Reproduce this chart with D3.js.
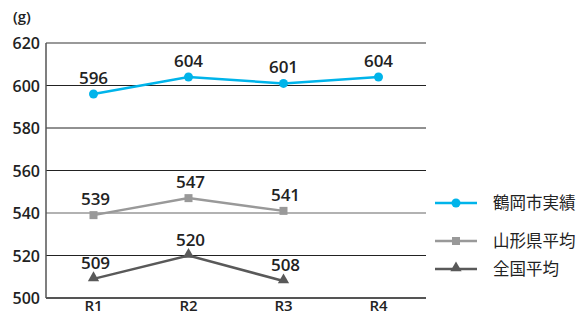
<!DOCTYPE html>
<html><head><meta charset="utf-8">
<script src="https://cdn.jsdelivr.net/npm/d3@7"></script>
<style>body{margin:0;background:#fff}svg{display:block}text{font-family:"Open Sans","Noto Sans CJK JP",sans-serif}</style>
</head><body><svg id="c" width="579" height="316"></svg>
<script>
const categories = ["R1","R2","R3","R4"];
const yTicks = [500,520,540,560,580,600,620];
const seriesNames = ["鶴岡市実績","山形県平均","全国平均"];
const tsuruoka = [596,604,601,604];
const yamagata = [539,547,541,null];
const national = [509,520,508,null];
const unit = "(g)";

const svg = d3.select("#c");
const L=46, R=426, T=43, B=298;
const x = d3.scalePoint().domain(categories).range([L,R]).padding(0.5);
const y = d3.scaleLinear().domain([500,620]).range([B,T]);

yTicks.forEach(t=>{
  if(t===500) return;
  let col = "#222", w=1;
  if(t===620){col="#999";w=2;}
  if(t===540){col="#999";w=1.5;}
  svg.append("line").attr("x1",L).attr("x2",R).attr("y1",y(t)).attr("y2",y(t))
    .attr("stroke",col).attr("stroke-width",w);
});
svg.append("line").attr("x1",L).attr("x2",L).attr("y1",T).attr("y2",B).attr("stroke","#555").attr("stroke-width",1.5);
svg.append("line").attr("x1",L).attr("x2",R).attr("y1",B).attr("y2",B).attr("stroke","#555").attr("stroke-width",2);

svg.selectAll(".yt").data(yTicks).enter().append("text")
  .attr("x",40).attr("y",d=>y(d)+6).attr("text-anchor","end")
  .attr("font-size",16).attr("font-weight",600).attr("fill","#222").text(d=>d);
svg.append("text").attr("x",13).attr("y",22).attr("font-size",15).attr("font-weight",600).attr("fill","#222").text(unit);
svg.selectAll(".xt").data(categories).enter().append("text")
  .attr("x",d=>x(d)).attr("y",B+13).attr("text-anchor","middle")
  .attr("font-size",15).attr("font-weight",600).attr("fill","#222").text(d=>d);

const series = [
  {name:seriesNames[0], vals:tsuruoka, color:"#00b4ea", marker:"circle"},
  {name:seriesNames[1], vals:yamagata, color:"#999999", marker:"square"},
  {name:seriesNames[2], vals:national, color:"#595959", marker:"triangle"}
];
function marker(g, type, cx, cy, color){
  if(type==="circle") g.append("circle").attr("cx",cx).attr("cy",cy).attr("r",4.5).attr("fill",color);
  else if(type==="square") g.append("rect").attr("x",cx-4).attr("y",cy-4).attr("width",8).attr("height",8).attr("fill",color);
  else g.append("path").attr("d",d3.symbol().type(d3.symbolTriangle).size(55)()).attr("transform",`translate(${cx},${cy-1})`).attr("fill",color);
}
series.forEach(s=>{
  const pts = categories.map((c,i)=>({c,v:s.vals[i]})).filter(d=>d.v!=null);
  svg.append("path").datum(pts).attr("fill","none").attr("stroke",s.color).attr("stroke-width",2.5)
    .attr("d",d3.line().x(d=>x(d.c)).y(d=>y(d.v)));
  pts.forEach(d=>{
    marker(svg,s.marker,x(d.c),y(d.v),s.color);
    svg.append("text").attr("x",x(d.c)+(s.marker==="circle"?0:2)).attr("y",y(d.v)-10)
      .attr("text-anchor","middle").attr("font-size",17).attr("font-weight",600).attr("fill","#222").text(d.v);
  });
});
const ly=[203,241,269];
series.forEach((s,i)=>{
  svg.append("line").attr("x1",435).attr("x2",477).attr("y1",ly[i]).attr("y2",ly[i]).attr("stroke",s.color).attr("stroke-width",2.5);
  marker(svg,s.marker,456,ly[i],s.color);
  svg.append("text").attr("x",493).attr("y",ly[i]+6).attr("font-size",16.5).attr("fill","#222").text(s.name);
});
</script></body></html>
